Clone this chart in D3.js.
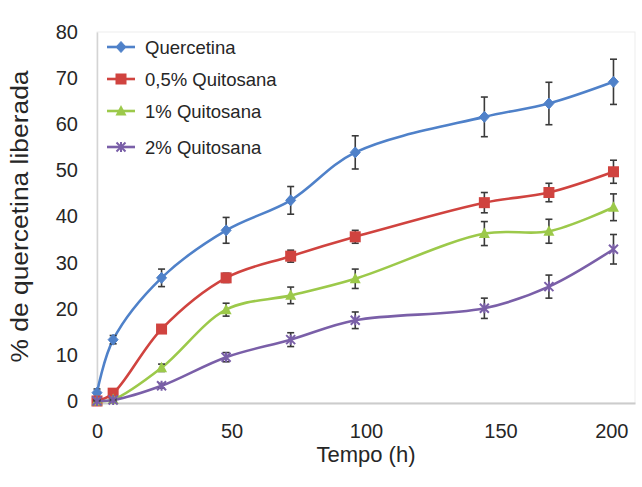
<!DOCTYPE html>
<html>
<head>
<meta charset="utf-8">
<script src="https://cdn.jsdelivr.net/npm/d3@7"></script>
<style>
  html, body { margin: 0; padding: 0; background: #fff; }
  svg { display: block; font-family: "Liberation Sans", Arial, sans-serif; }
</style>
</head>
<body>
<svg id="chart" width="642" height="487"></svg>
<script>
// Release time points (h)
const hours = [0, 6, 24, 48, 72, 96, 144, 168, 192];

// Cumulative quercetin released (%) per formulation
const quercetina   = [1.8, 13.3, 26.7, 37.0, 43.5, 53.9, 61.6, 64.5, 69.2];
const quit05       = [0.0, 1.7, 15.6, 26.7, 31.4, 35.6, 43.0, 45.2, 49.7];
const quit1        = [0.0, 0.3, 7.2, 19.8, 22.9, 26.5, 36.3, 36.8, 42.0];
const quit2        = [0.0, 0.2, 3.3, 9.5, 13.3, 17.5, 20.1, 24.8, 32.9];

// Standard deviations (error bars)
const errQuercetina = [0.8, 0.9, 1.9, 2.8, 3.0, 3.6, 4.3, 4.6, 4.9];
const errQuit05     = [0.3, 0.4, 0.7, 1.0, 1.3, 1.4, 2.2, 2.0, 2.5];
const errQuit1      = [0.3, 0.3, 0.8, 1.4, 1.8, 2.1, 2.6, 2.6, 2.9];
const errQuit2      = [0.2, 0.2, 0.5, 1.0, 1.5, 1.8, 2.2, 2.5, 3.2];

const seriesNames = ["Quercetina", "0,5% Quitosana", "1% Quitosana", "2% Quitosana"];

const xTicks = [0, 50, 100, 150, 200];
const yTicks = [0, 10, 20, 30, 40, 50, 60, 70, 80];

const series = [
  { name: seriesNames[0], values: quercetina, err: errQuercetina, color: "#4f81c9", marker: "diamond" },
  { name: seriesNames[1], values: quit05,     err: errQuit05,     color: "#d0433f", marker: "square" },
  { name: seriesNames[2], values: quit1,      err: errQuit1,      color: "#9cc94a", marker: "triangle" },
  { name: seriesNames[3], values: quit2,      err: errQuit2,      color: "#7a5fa8", marker: "star" }
];

const svg = d3.select("#chart");
const plot = { left: 97, right: 635, top: 32, bottom: 401 };

const x = d3.scaleLinear().domain([0, 200]).range([plot.left, plot.right]);
const y = d3.scaleLinear().domain([0, 80]).range([plot.bottom, plot.top]);

// faint plot-area frame
svg.append("rect")
  .attr("x", plot.left).attr("y", plot.top)
  .attr("width", plot.right - plot.left).attr("height", plot.bottom - plot.top + 2)
  .attr("fill", "none").attr("stroke", "#ededed").attr("stroke-width", 1);

// y axis
const yAxis = svg.append("g")
  .attr("transform", `translate(${plot.left},0)`)
  .call(d3.axisLeft(y).tickValues(yTicks).tickSize(0).tickPadding(19));
yAxis.select(".domain").attr("stroke", "#d4d4d4").attr("stroke-width", 1.5);
yAxis.selectAll("text").attr("font-size", 20).attr("fill", "#262626")
  .attr("font-family", "'Liberation Sans', Arial, sans-serif");

// x axis
const xAxis = svg.append("g")
  .attr("transform", `translate(0,${plot.bottom + 2})`)
  .call(d3.axisBottom(x).tickValues(xTicks).tickSize(0).tickPadding(21));
xAxis.select(".domain").attr("stroke", "#cccccc").attr("stroke-width", 2);
xAxis.selectAll("text").attr("font-size", 20).attr("fill", "#262626")
  .attr("font-family", "'Liberation Sans', Arial, sans-serif");
// keep the last tick label inside the chart edge
xAxis.selectAll(".tick").filter(d => d === 200).select("text")
  .attr("text-anchor", "end").attr("x", -7);

// axis titles
svg.append("text")
  .attr("x", (plot.left + plot.right) / 2).attr("y", 462)
  .attr("text-anchor", "middle").attr("font-size", 22).attr("fill", "#262626")
  .text("Tempo (h)");

svg.append("text")
  .attr("transform", `translate(28,${(plot.top + plot.bottom) / 2}) rotate(-90)`)
  .attr("text-anchor", "middle").attr("font-size", 23).attr("fill", "#262626")
  .attr("textLength", 292).attr("lengthAdjust", "spacingAndGlyphs")
  .text("% de quercetina liberada");

const line = d3.line()
  .x((d, i) => x(hours[i]))
  .y(d => y(d))
  .curve(d3.curveCatmullRom.alpha(0.5));

function drawMarker(g, type, color, cx, cy) {
  if (type === "diamond") {
    g.append("path")
      .attr("d", `M${cx},${cy - 5.5}L${cx + 5},${cy}L${cx},${cy + 5.5}L${cx - 5},${cy}Z`)
      .attr("fill", color).attr("stroke", color).attr("stroke-width", 1);
  } else if (type === "square") {
    g.append("rect")
      .attr("x", cx - 5.5).attr("y", cy - 5.5).attr("width", 11).attr("height", 11)
      .attr("fill", color);
  } else if (type === "triangle") {
    g.append("path")
      .attr("d", `M${cx},${cy - 6}L${cx + 5.5},${cy + 4.5}L${cx - 5.5},${cy + 4.5}Z`)
      .attr("fill", color);
  } else if (type === "star") {
    g.append("path")
      .attr("d", `M${cx - 4.5},${cy - 4.5}L${cx + 4.5},${cy + 4.5}M${cx + 4.5},${cy - 4.5}L${cx - 4.5},${cy + 4.5}M${cx},${cy - 5}L${cx},${cy + 5}`)
      .attr("stroke", color).attr("stroke-width", 2).attr("fill", "none");
  }
}

// series: line, error bars, markers
series.forEach(s => {
  const g = svg.append("g");
  g.append("path")
    .attr("d", line(s.values))
    .attr("fill", "none").attr("stroke", s.color).attr("stroke-width", 2.6)
    .attr("stroke-linejoin", "round");

  s.values.forEach((v, i) => {
    const cx = x(hours[i]);
    const e = s.err[i];
    const y1 = y(v + e), y2 = y(Math.max(0, v - e));
    const eb = g.append("g").attr("stroke", "#3a3a3a").attr("stroke-width", 1.6);
    eb.append("line").attr("x1", cx).attr("x2", cx).attr("y1", y1).attr("y2", y2);
    eb.append("line").attr("x1", cx - 3.5).attr("x2", cx + 3.5).attr("y1", y1).attr("y2", y1);
    eb.append("line").attr("x1", cx - 3.5).attr("x2", cx + 3.5).attr("y1", y2).attr("y2", y2);
  });

  s.values.forEach((v, i) => drawMarker(g, s.marker, s.color, x(hours[i]), y(v)));
});

// legend
const legendRows = [47, 79, 111, 147];
const legend = svg.append("g");
series.forEach((s, i) => {
  const ly = legendRows[i];
  legend.append("line")
    .attr("x1", 107).attr("x2", 135).attr("y1", ly).attr("y2", ly)
    .attr("stroke", s.color).attr("stroke-width", 2.6);
  drawMarker(legend, s.marker, s.color, 121, ly);
  legend.append("text")
    .attr("x", 145).attr("y", ly).attr("dy", "0.36em")
    .attr("font-size", 18.5).attr("fill", "#262626")
    .text(s.name);
});
</script>
</body>
</html>
